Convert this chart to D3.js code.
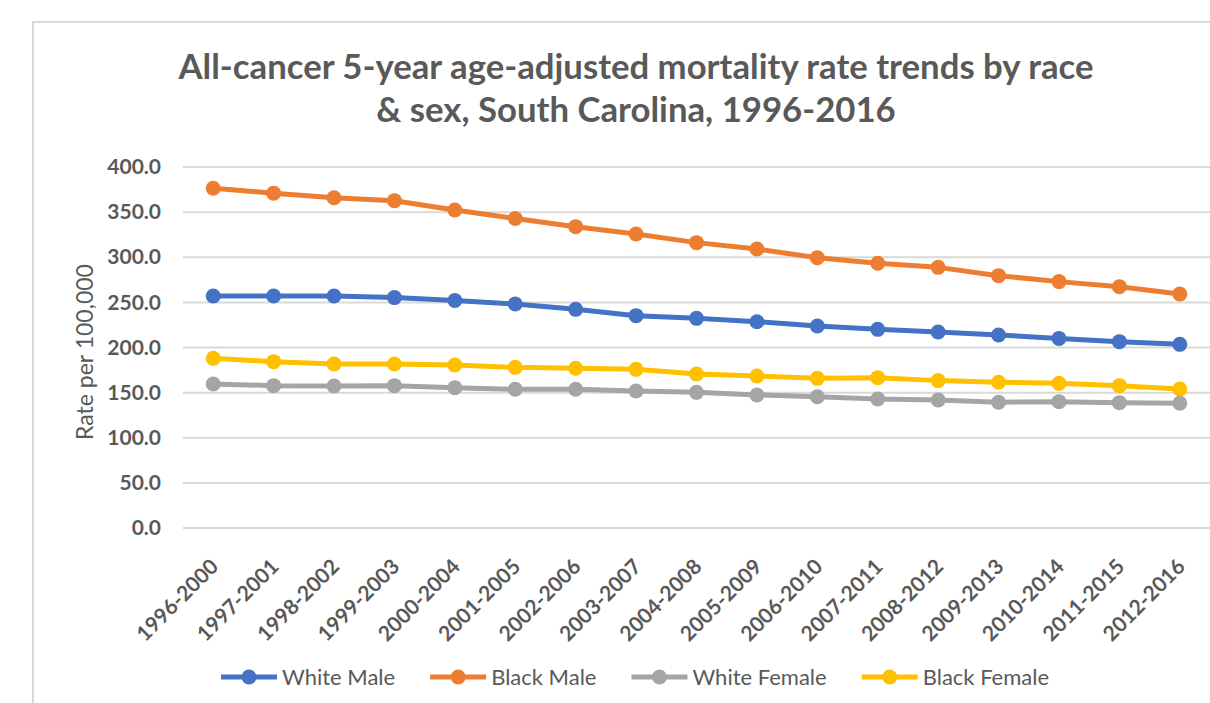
<!DOCTYPE html>
<html lang="en">
<head>
<meta charset="UTF-8">
<script src="https://d3js.org/d3.v7.min.js"></script>
<title>All-cancer mortality trends</title>
<style>
  body { margin: 0; background: #fff; }
  svg { display: block; font-family: Lato, "Open Sans", sans-serif; }
  .grid line { stroke: #d9d9d9; stroke-width: 2; }
  .axis text { fill: #595959; font-weight: bold; font-family: Lato, "Open Sans", sans-serif; }
  .title { fill: #595959; font-weight: bold; }
</style>
</head>
<body>
<div id="chart"></div>
<script>
// periods (x categories)
var periods = ["1996-2000", "1997-2001", "1998-2002", "1999-2003", "2000-2004",
  "2001-2005", "2002-2006", "2003-2007", "2004-2008", "2005-2009", "2006-2010",
  "2007-2011", "2008-2012", "2009-2013", "2010-2014", "2011-2015", "2012-2016"];

// rates per 100,000
var whiteMale   = [257.0, 257.0, 257.0, 255.3, 252.0, 248.2, 242.3, 235.3, 232.3, 228.6, 223.8, 220.1, 217.2, 213.9, 210.1, 206.5, 203.5];
var blackMale   = [376.4, 371.0, 366.0, 362.7, 352.4, 343.0, 333.9, 325.8, 316.2, 309.1, 299.5, 293.3, 288.8, 279.6, 273.0, 267.4, 259.3];
var whiteFemale = [159.6, 157.7, 157.3, 157.7, 155.5, 153.7, 153.7, 151.8, 150.3, 147.4, 145.5, 142.9, 141.8, 139.3, 140.0, 138.9, 138.2];
var blackFemale = [188.0, 184.3, 181.7, 181.7, 180.6, 178.0, 177.0, 175.8, 170.6, 168.4, 165.8, 166.6, 163.3, 161.5, 160.3, 157.7, 154.0];

var seriesNames  = ["White Male", "Black Male", "White Female", "Black Female"];
var seriesColors = ["#4472C4", "#ED7D31", "#A5A5A5", "#FFC000"];
var yTicks = [0, 50, 100, 150, 200, 250, 300, 350, 400];

var titleLines = ["All-cancer 5-year age-adjusted mortality rate trends by race",
                  "& sex, South Carolina, 1996-2016"];

var series = [whiteMale, blackMale, whiteFemale, blackFemale].map(function(vals, i) {
  return { name: seriesNames[i], color: seriesColors[i], values: vals };
});

var W = 1210, H = 703;
var plot = { left: 183, right: 1210, top: 167, bottom: 528 };

var svg = d3.select("#chart").append("svg")
    .attr("width", W)
    .attr("height", H);

// chart frame (right/bottom edge cropped in the original)
svg.append("rect")
    .attr("x", 33).attr("y", 22)
    .attr("width", W).attr("height", H)
    .attr("fill", "none")
    .attr("stroke", "#d9d9d9")
    .attr("stroke-width", 2);

// title, fitted to the width of the first line in the picture
var titleBase = [79, 122];
var titleSize = 30;
titleLines.forEach(function(line, i) {
  var t = svg.append("text")
      .attr("class", "title")
      .attr("x", 636)
      .attr("y", titleBase[i])
      .attr("text-anchor", "middle")
      .style("font-size", titleSize + "px")
      .text(line);
  if (i == 0) {
    titleSize = titleSize * 915 / t.node().getComputedTextLength();
    t.style("font-size", titleSize + "px");
  }
});

var x = d3.scalePoint()
    .domain(periods)
    .range([plot.left, plot.right])
    .padding(0.5);

var y = d3.scaleLinear()
    .domain([0, 400])
    .range([plot.bottom, plot.top]);

// gridlines
svg.append("g")
    .attr("class", "grid")
  .selectAll("line")
    .data(yTicks)
  .enter().append("line")
    .attr("x1", plot.left)
    .attr("x2", plot.right)
    .attr("y1", function(d) { return y(d); })
    .attr("y2", function(d) { return y(d); });

// y axis labels
var yAxis = d3.axisLeft(y)
    .tickValues(yTicks)
    .tickSize(0)
    .tickPadding(0)
    .tickFormat(d3.format(".1f"));

svg.append("g")
    .attr("class", "axis y")
    .attr("transform", "translate(161,0)")
    .call(yAxis)
    .attr("font-family", null)
    .call(function(g) { g.select(".domain").remove(); })
  .selectAll("text")
    .style("font-size", "21px");

// x axis labels, rotated
var xAxis = d3.axisBottom(x).tickSize(0).tickPadding(0);

var gx = svg.append("g")
    .attr("class", "axis x")
    .attr("transform", "translate(0," + plot.bottom + ")")
    .call(xAxis)
    .attr("font-family", null);
gx.select(".domain").remove();
gx.selectAll(".tick text")
    .style("font-size", "21px")
    .attr("text-anchor", "end")
    .attr("dy", null)
    .attr("y", null)
    .attr("transform", "translate(6,40) rotate(-45)");

// y axis title
svg.append("text")
    .attr("transform", "translate(93,352) rotate(-90)")
    .attr("text-anchor", "middle")
    .attr("fill", "#595959")
    .style("font-size", "23px")
    .text("Rate per 100,000");

// lines and markers
var line = d3.line()
    .x(function(d, i) { return x(periods[i]); })
    .y(function(d) { return y(d); });

var gs = svg.selectAll(".series")
    .data(series)
  .enter().append("g")
    .attr("class", "series");

gs.append("path")
    .attr("d", function(d) { return line(d.values); })
    .attr("fill", "none")
    .attr("stroke", function(d) { return d.color; })
    .attr("stroke-width", 5)
    .attr("stroke-linejoin", "round");

gs.selectAll("circle")
    .data(function(d) { return d.values.map(function(v, i) { return { v: v, i: i, color: d.color }; }); })
  .enter().append("circle")
    .attr("cx", function(d) { return x(periods[d.i]); })
    .attr("cy", function(d) { return y(d.v); })
    .attr("r", 7.5)
    .attr("fill", function(d) { return d.color; });

// legend
var legend = svg.append("g").attr("transform", "translate(0,677)");
var lx = 221;
series.forEach(function(s) {
  var g = legend.append("g").attr("transform", "translate(" + lx + ",0)");
  g.append("line")
      .attr("x1", 0).attr("x2", 56)
      .attr("stroke", s.color)
      .attr("stroke-width", 5);
  g.append("circle")
      .attr("cx", 28).attr("r", 7.5)
      .attr("fill", s.color);
  var t = g.append("text")
      .attr("x", 61)
      .attr("dy", "0.36em")
      .attr("fill", "#595959")
      .style("font-size", "22px")
      .text(s.name);
  lx += 61 + t.node().getComputedTextLength() + 35;
});
</script>
</body>
</html>
